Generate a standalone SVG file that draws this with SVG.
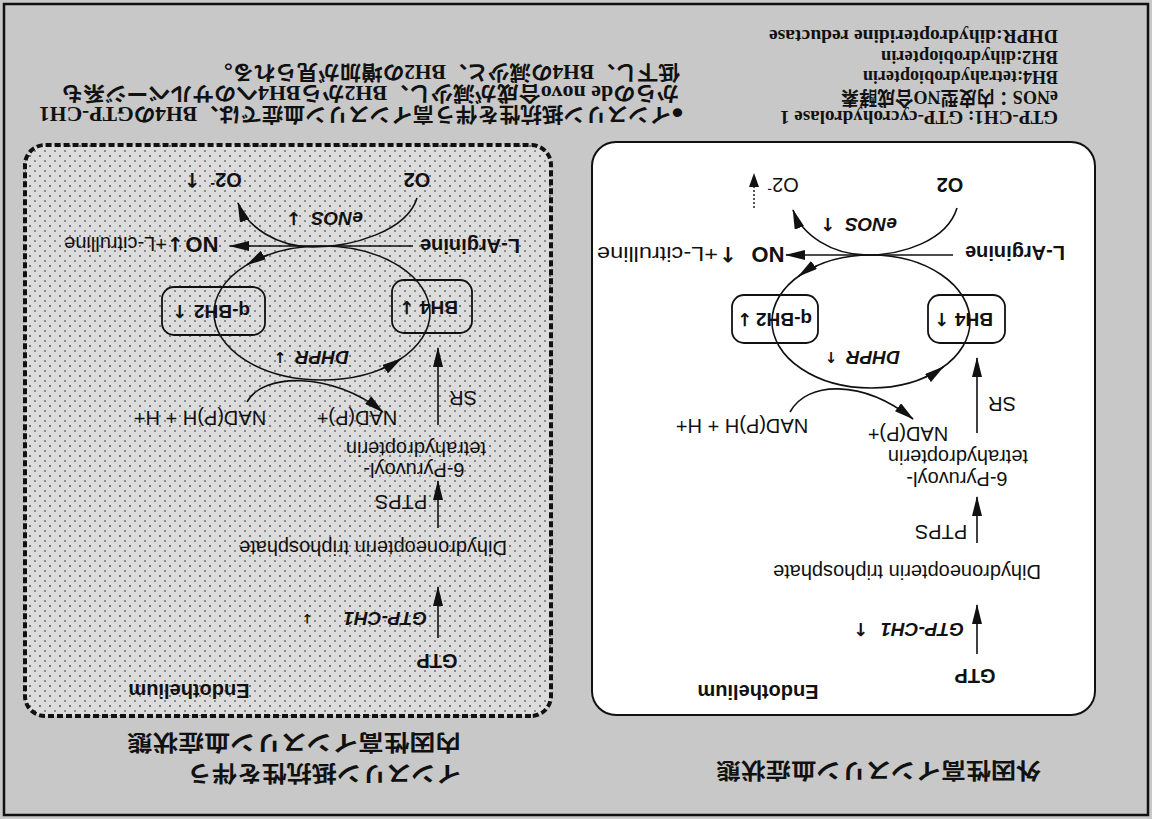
<svg xmlns="http://www.w3.org/2000/svg" width="1152" height="819" viewBox="0 0 1152 819">
<defs>
<style>
.s{font-family:"Liberation Sans",Arial,sans-serif;fill:#111;dominant-baseline:central}
.r{font-size:20px}
.b{font-size:20px;font-weight:bold}
.bi{font-size:19px;font-weight:bold;font-style:italic}
.bx{font-size:19px;font-weight:bold}
.no{font-size:22px;font-weight:bold}
.ar{font-family:"DejaVu Sans",sans-serif;font-weight:bold;font-style:normal;fill:#111;dominant-baseline:central}
.jp{font-family:"Liberation Serif","Noto Sans CJK JP",serif;font-weight:bold;fill:#111;dominant-baseline:central}
.lg{font-size:19px}
.bl{font-size:20px}
.tt{font-family:"Noto Sans CJK JP",sans-serif;font-weight:bold;font-size:22px;fill:#111;dominant-baseline:central}
.ln{fill:none;stroke:#111;stroke-width:1.6}
.box{stroke:#111;stroke-width:1.8}
</style>
<marker id="ah" viewBox="0 0 20 10" refX="19" refY="5" markerWidth="20" markerHeight="10" markerUnits="userSpaceOnUse" orient="auto">
<path d="M0,0 L20,5 L0,10 Z" fill="#111"/>
</marker>
<pattern id="speck" width="10" height="10" patternUnits="userSpaceOnUse">
<rect width="10" height="10" fill="#dcdcdc"/>
<circle cx="2" cy="3" r="1" fill="#555"/>
<circle cx="7" cy="8" r="0.9" fill="#666"/>
</pattern>
</defs>
<rect width="1152" height="819" fill="#c8c8c8"/>
<g transform="rotate(180 576 409.5)">
<rect x="4" y="4" width="1144" height="811" fill="none" stroke="#111" stroke-width="2.5"/>

<g id="title-exogenous"><text class="tt" x="111" y="46" textLength="325" lengthAdjust="spacingAndGlyphs">外因性高インスリン血症状態</text></g>
<g id="title-endogenous">
<text class="tt" x="691" y="43" textLength="274" lengthAdjust="spacingAndGlyphs">インスリン抵抗性を伴う</text>
<text class="tt" x="691" y="74" textLength="334" lengthAdjust="spacingAndGlyphs">内因性高インスリン血症状態</text>
</g>

<!-- exogenous panel -->
<g id="panel-exogenous"><rect x="57" y="104" width="503" height="573" rx="24" fill="#fff" stroke="#111" stroke-width="2"/></g>
<g id="ex-endothelium"><text class="s b" x="394" y="127" text-anchor="middle">Endothelium</text></g>
<g id="ex-gtp"><text class="s b" x="177" y="143" text-anchor="middle">GTP</text></g>
<g id="ex-gtpch1"><text class="s bi" x="188" y="190">GTP-CH1</text><text class="ar" x="291" y="190" font-size="18" text-anchor="middle">↑</text></g>
<g id="ex-dntp"><text class="s r" x="245" y="247" text-anchor="middle">Dihydroneopterin triphosphate</text></g>
<g id="ex-ptps"><text class="s r" x="211" y="287" text-anchor="middle">PTPS</text></g>
<g id="ex-6pt"><text class="s r" x="195" y="340" text-anchor="middle">6-Pyruvoyl-</text><text class="s r" x="194" y="362" text-anchor="middle">tetrahydropterin</text></g>
<g id="ex-nadp"><text class="s r" x="244" y="385" text-anchor="middle">NAD(P)+</text></g>
<g id="ex-nadph"><text class="s r" x="410" y="393" text-anchor="middle">NAD(P)H + H+</text></g>
<g id="ex-sr"><text class="s r" x="150" y="415" text-anchor="middle">SR</text></g>
<g id="ex-bh4"><rect class="box" x="147" y="476" width="77" height="48" rx="12" fill="#fff"/><text class="s bx" x="178" y="500" text-anchor="middle">BH4</text><text class="ar" x="210" y="500" font-size="18" text-anchor="middle">↑</text></g>
<g id="ex-qbh2"><rect class="box" x="334" y="476" width="86" height="48" rx="12" fill="#fff"/><text class="s bx" x="368" y="500" text-anchor="middle">q-BH2</text><text class="ar" x="407" y="500" font-size="18" text-anchor="middle">↓</text></g>
<g id="ex-dhpr"><text class="s bi" x="279" y="462" text-anchor="middle">DHPR</text><text class="ar" x="321" y="462" font-size="15" text-anchor="middle">↑</text></g>
<g id="ex-enos"><text class="s bi" x="281" y="595" text-anchor="middle">eNOS</text><text class="ar" x="324" y="595" font-size="18" text-anchor="middle">↑</text></g>
<g id="ex-larg"><text class="s b" x="137" y="566" text-anchor="middle" font-size="21">L-Arginine</text></g>
<g id="ex-no"><text class="s no" x="384" y="565" text-anchor="middle">NO</text><text class="ar" x="424" y="565" font-size="21" text-anchor="middle">↑</text><text class="s r" x="434" y="565" font-size="22" textLength="121" lengthAdjust="spacingAndGlyphs">+L-citrulline</text></g>
<g id="ex-o2"><text class="s b" x="202" y="634" text-anchor="middle">O2</text></g>
<g id="ex-o2m"><text class="s r" x="369" y="634" text-anchor="middle">O2<tspan font-size="14" dy="-5">-</tspan></text></g>
<g id="ex-connectors">
<line class="ln" x1="175" y1="165" x2="175" y2="214" marker-end="url(#ah)"/>
<line class="ln" x1="175" y1="276" x2="175" y2="322" marker-end="url(#ah)"/>
<line class="ln" x1="175" y1="386" x2="175" y2="461" marker-end="url(#ah)"/>
<line class="ln" x1="199" y1="564" x2="366" y2="564" marker-end="url(#ah)"/>
<ellipse class="ln" cx="281" cy="497.5" rx="99" ry="66.5"/>
<path class="ln" d="M335 553.3 A99 66.5 0 0 0 353.4 542.9" marker-end="url(#ah)"/>
<path class="ln" d="M227 441.7 A99 66.5 0 0 0 208.6 452.1" marker-end="url(#ah)"/>
<path class="ln" d="M195 611 C205 578 250 564 285 564 C320 564 350 584 359 609" marker-end="url(#ah)"/>
<path class="ln" d="M362 407 C345 438 290 440 239 400" marker-end="url(#ah)"/>
<line x1="398" y1="611" x2="398" y2="632" stroke="#111" stroke-width="1.4" stroke-dasharray="2 2"/>
<polygon points="393,632 403,632 398,646" fill="#111"/>
</g>

<!-- endogenous panel -->
<g id="panel-endogenous"><rect x="601" y="103" width="526" height="571" rx="20" fill="url(#speck)" stroke="#111" stroke-width="4" stroke-dasharray="6 3"/></g>
<g id="en-endothelium"><text class="s b" x="963" y="128" text-anchor="middle">Endothelium</text></g>
<g id="en-gtp"><text class="s b" x="715" y="158" text-anchor="middle">GTP</text></g>
<g id="en-gtpch1"><text class="s bi" x="725" y="201">GTP-CH1</text><text class="ar" x="845" y="201" font-size="13" font-weight="normal" text-anchor="middle">↓</text></g>
<g id="en-dntp"><text class="s r" x="779" y="271" text-anchor="middle">Dihydroneopterin triphosphate</text></g>
<g id="en-ptps"><text class="s r" x="751" y="317" text-anchor="middle">PTPS</text></g>
<g id="en-6pt"><text class="s r" x="738" y="349" text-anchor="middle">6-Pyruvoyl-</text><text class="s r" x="736" y="370" text-anchor="middle">tetrahydropterin</text></g>
<g id="en-nadp"><text class="s r" x="795" y="401" text-anchor="middle">NAD(P)+</text></g>
<g id="en-nadph"><text class="s r" x="952" y="401" text-anchor="middle">NAD(P)H + H+</text></g>
<g id="en-sr"><text class="s r" x="689" y="421" text-anchor="middle">SR</text></g>
<g id="en-bh4"><rect class="box" x="680" y="486" width="80" height="53" rx="12" fill="url(#speck)"/><text class="s bx" x="713" y="512" text-anchor="middle">BH4</text><text class="ar" x="745" y="512" font-size="18" text-anchor="middle">↓</text></g>
<g id="en-qbh2"><rect class="box" x="887" y="484" width="103" height="48" rx="12" fill="url(#speck)"/><text class="s bx" x="930" y="508" text-anchor="middle">q-BH2</text><text class="ar" x="972" y="508" font-size="18" text-anchor="middle">↑</text></g>
<g id="en-dhpr"><text class="s bi" x="830" y="462" text-anchor="middle">DHPR</text><text class="ar" x="872" y="462" font-size="15" text-anchor="middle">↓</text></g>
<g id="en-enos"><text class="s bi" x="815" y="601" text-anchor="middle">eNOS</text><text class="ar" x="858" y="601" font-size="18" text-anchor="middle">↓</text></g>
<g id="en-larg"><text class="s b" x="682" y="573" text-anchor="middle" font-size="21">L-Arginine</text></g>
<g id="en-no"><text class="s no" x="950" y="575" text-anchor="middle">NO</text><text class="ar" x="977" y="575" font-size="20" text-anchor="middle">↓</text><text class="s r" x="985" y="575">+L-citrulline</text></g>
<g id="en-o2"><text class="s b" x="735" y="639" text-anchor="middle">O2</text></g>
<g id="en-o2m"><text class="s b" x="926" y="639" text-anchor="middle">O2<tspan font-size="14" dy="-5">-</tspan></text><text class="ar" x="960" y="639" font-size="20" text-anchor="middle">↑</text></g>
<g id="en-connectors">
<line class="ln" x1="714" y1="181" x2="714" y2="232" marker-end="url(#ah)"/>
<line class="ln" x1="714" y1="291" x2="714" y2="338" marker-end="url(#ah)"/>
<line class="ln" x1="714" y1="394" x2="714" y2="471" marker-end="url(#ah)"/>
<line class="ln" x1="739" y1="573" x2="922" y2="573" marker-end="url(#ah)"/>
<ellipse class="ln" cx="830" cy="506" rx="108" ry="67"/>
<path class="ln" d="M884 564 A108 67 0 0 0 905 554.2" marker-end="url(#ah)"/>
<path class="ln" d="M771.2 449.8 A108 67 0 0 0 751 460.3" marker-end="url(#ah)"/>
<path class="ln" d="M735 621 C745 588 800 572 839 572 C875 572 905 592 914 616" marker-end="url(#ah)"/>
<path class="ln" d="M905 417 C890 446 820 448 769 407" marker-end="url(#ah)"/>
</g>

<!-- legend -->
<g id="legend">
<text class="jp lg" x="94" y="702" textLength="278" lengthAdjust="spacingAndGlyphs">GTP-CH1: GTP-cycrohydrolase 1</text>
<text class="jp lg" x="94" y="722" textLength="217" lengthAdjust="spacingAndGlyphs">eNOS：内皮型NO合成酵素</text>
<text class="jp lg" x="94" y="742" textLength="195" lengthAdjust="spacingAndGlyphs">BH4:tetrahydrobiopterin</text>
<text class="jp lg" x="94" y="762" textLength="177" lengthAdjust="spacingAndGlyphs">BH2:dihydrobiopterin</text>
<text class="jp lg" x="94" y="783" textLength="289" lengthAdjust="spacingAndGlyphs">DHPR:dihydropteridine reductase</text>
</g>
<g id="note">
<text class="jp bl" x="468" y="705" textLength="645" lengthAdjust="spacingAndGlyphs">●インスリン抵抗性を伴う高インスリン血症では、BH4のGTP-CH1</text>
<text class="jp bl" x="473" y="726" textLength="618" lengthAdjust="spacingAndGlyphs">からのde novo合成が減少し、BH2からBH4へのサルベージ系も</text>
<text class="jp bl" x="472" y="747" textLength="469" lengthAdjust="spacingAndGlyphs">低下し、BH4の減少と、BH2の増加が見られる。</text>
</g>
</g>
</svg>
